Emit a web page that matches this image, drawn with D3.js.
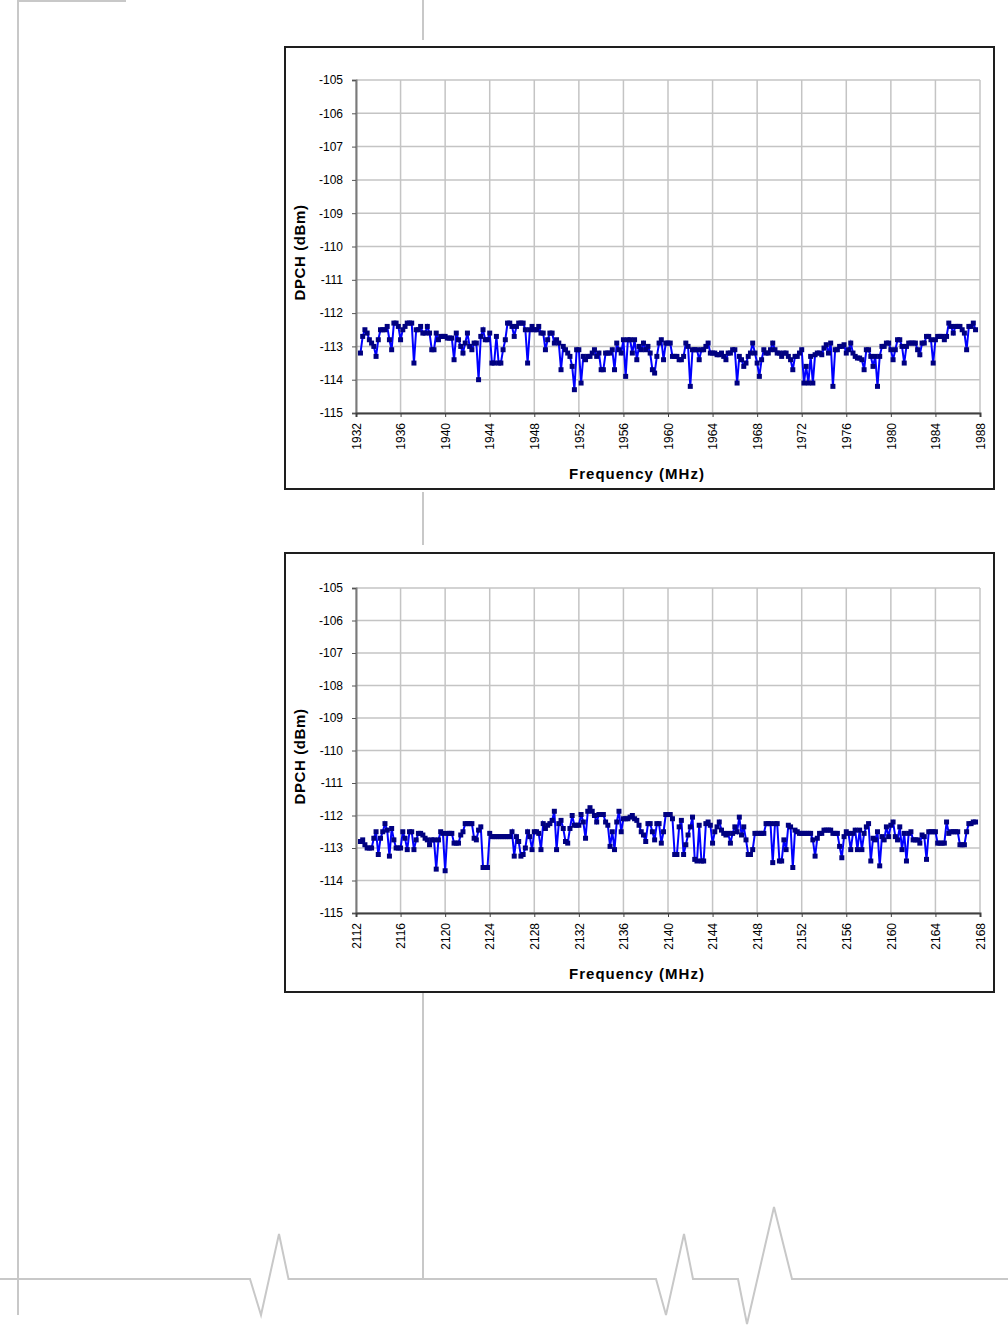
<!DOCTYPE html>
<html><head><meta charset="utf-8">
<script src="https://cdn.jsdelivr.net/npm/d3@7"></script>
<style>body{margin:0;background:#fff}svg{display:block}</style>
</head><body>
<svg id="c" width="1008" height="1325"></svg>
<script>
// ---- data ----
const yTicks = [-115,-114,-113,-112,-111,-110,-109,-108,-107,-106,-105];
const xTicks1 = [1932,1936,1940,1944,1948,1952,1956,1960,1964,1968,1972,1976,1980,1984,1988];
const xTicks2 = [2112,2116,2120,2124,2128,2132,2136,2140,2144,2148,2152,2156,2160,2164,2168];
const xTitle = "Frequency (MHz)";
const yTitle = "DPCH (dBm)";

// DPCH level, 0.2 MHz channel raster, 1932.4 .. 1987.6 MHz
const dpch1 = [
-113.2,-112.7,-112.5,-112.6,-112.8,-112.9,-113.0,-113.3,-112.8,-112.5,
-112.5,-112.5,-112.4,-112.8,-113.1,-112.3,-112.3,-112.4,-112.8,-112.5,
-112.4,-112.3,-112.3,-112.3,-113.5,-112.5,-112.5,-112.4,-112.6,-112.6,
-112.4,-112.6,-113.1,-113.1,-112.6,-112.8,-112.7,-112.7,-112.7,-112.75,
-112.75,-112.75,-113.4,-112.6,-112.8,-113.0,-113.2,-112.9,-112.6,-113.0,
-113.1,-112.9,-112.9,-114.0,-112.7,-112.5,-112.8,-112.8,-112.6,-113.5,
-113.5,-112.7,-113.5,-113.5,-113.1,-112.8,-112.3,-112.3,-112.4,-112.7,
-112.4,-112.3,-112.3,-112.3,-112.5,-113.5,-112.5,-112.4,-112.5,-112.5,
-112.4,-112.6,-112.6,-113.1,-112.8,-112.6,-112.6,-112.9,-112.8,-112.9,
-113.7,-113.0,-113.1,-113.2,-113.3,-113.6,-114.3,-113.1,-113.1,-114.1,
-113.3,-113.4,-113.3,-113.3,-113.2,-113.1,-113.3,-113.2,-113.7,-113.7,
-113.2,-113.2,-113.2,-113.1,-113.7,-112.9,-113.1,-113.2,-112.8,-113.9,
-112.8,
-112.8,-113.2,-112.8,-113.4,-113.0,-113.1,-112.9,-113.1,-113.0,-113.2,
-113.7,-113.8,-113.3,-112.9,-112.8,-113.4,-112.9,-112.9,-112.9,-113.3,
-113.3,-113.3,-113.4,-113.4,-113.3,-112.9,-113.0,-114.2,-113.1,-113.1,
-113.1,-113.4,-113.1,-113.1,-113.0,-112.9,-113.2,-113.2,-113.2,-113.25,
-113.25,-113.2,-113.3,-113.4,-113.2,-113.2,-113.1,-113.1,-114.1,-113.3,
-113.4,-113.6,-113.5,-113.3,-113.2,-112.9,-113.2,-113.5,-113.9,-113.4,
-113.1,-113.2,-113.2,-113.1,-112.9,-113.1,-113.2,-113.2,-113.3,-113.2,
-113.2,-113.3,-113.4,-113.7,-113.3,-113.3,-113.2,-113.1,-114.1,-113.6,
-114.1,-113.3,-114.1,-113.25,-113.2,-113.2,-113.25,-113.05,-112.95,-113.2,
-112.9,-114.2,-113.1,-113.1,-113.0,-113.0,-112.95,-113.2,-113.1,-112.9,
-113.2,-113.3,-113.35,-113.35,-113.4,-113.7,-113.1,-113.1,-113.3,-113.6,
-113.3,-114.2,-113.3,-113.0,-113.0,-112.9,-112.9,-113.1,-113.4,-113.1,
-112.8,-112.8,-113.0,-113.5,-113.0,-112.9,-112.9,-112.9,-112.9,-113.1,
-113.25,-112.9,-112.9,-112.7,-112.7,-112.8,-113.5,-112.8,-112.7,-112.7,
-112.7,-112.8,-112.7,-112.3,-112.4,-112.6,-112.4,-112.4,-112.4,-112.5,
-112.6,-113.1,-112.4,-112.4,-112.3,-112.5
];

// DPCH level, 0.2 MHz channel raster, 2112.4 .. 2167.6 MHz
const dpch2 = [
-112.8,-112.75,-112.9,-113.0,-113.0,-113.0,-112.7,-112.5,-113.2,-112.7,
-112.5,-112.25,-112.45,-113.25,-112.4,-112.75,-113.0,-113.0,-113.0,-112.5,
-112.7,-113.05,-112.5,-112.5,-113.05,-112.75,-112.55,-112.55,-112.6,-112.7,
-112.75,-112.9,-112.75,-112.75,-113.65,-112.75,-112.5,-112.55,-113.7,-112.55,
-112.55,-112.55,-112.85,-112.85,-112.85,-112.6,-112.5,-112.25,-112.25,-112.25,
-112.25,-112.7,-112.75,-112.45,-112.35,-113.6,-113.6,-113.6,-112.55,-112.65,
-112.65,-112.65,-112.65,-112.65,-112.65,-112.65,-112.65,-112.65,-112.5,-113.25,
-112.65,-112.8,-113.25,-113.2,-113.0,-112.5,-112.65,-113.05,-112.5,-112.5,
-112.55,-113.05,-112.25,-112.4,-112.3,-112.25,-112.15,-111.87,-113.05,-112.25,
-112.15,-112.4,-112.8,-112.85,-112.4,-112.0,-112.3,-112.3,-112.3,-111.97,
-112.2,-112.7,-111.87,-111.76,-111.87,-112.0,-112.2,-111.97,-111.97,-111.97,
-112.2,-112.3,-112.95,-112.5,-113.05,-112.2,-111.87,-112.5,-112.1,-112.1,
-112.1,
-112.05,-112.0,-112.1,-112.15,-112.3,-112.5,-112.6,-112.8,-112.25,-112.25,
-112.5,-112.75,-112.25,-112.25,-112.85,-112.5,-111.97,-111.97,-111.97,-112.1,
-113.2,-113.2,-112.35,-112.15,-113.2,-112.9,-112.6,-112.35,-112.05,-113.35,
-113.4,-112.3,-113.4,-113.4,-112.25,-112.2,-112.3,-112.85,-112.5,-112.35,
-112.2,-112.45,-112.55,-112.6,-112.55,-112.85,-112.55,-112.35,-112.5,-112.05,
-112.6,-112.35,-112.75,-113.2,-113.2,-113.05,-112.55,-112.55,-112.55,-112.55,
-112.55,-112.25,-112.25,-112.25,-113.45,-112.25,-112.25,-113.4,-113.4,-112.75,
-113.05,-112.3,-112.35,-113.6,-112.45,-112.5,-112.55,-112.55,-112.55,-112.55,
-112.55,-112.55,-112.75,-113.25,-112.7,-112.55,-112.55,-112.45,-112.45,-112.45,
-112.45,-112.55,-112.55,-112.55,-112.95,-113.3,-112.65,-112.5,-112.55,-113.05,
-112.55,-112.45,-113.05,-112.45,-113.05,-112.55,-112.35,-112.25,-113.4,-112.7,
-112.75,-112.5,-113.55,-112.65,-112.75,-112.35,-112.65,-112.3,-112.2,-112.65,
-112.75,-112.35,-113.05,-112.55,-113.4,-112.55,-112.5,-112.75,-112.75,-112.75,
-112.85,-112.6,-112.65,-113.35,-112.5,-112.5,-112.5,-112.5,-112.85,-112.85,
-112.85,-112.85,-112.2,-112.55,-112.5,-112.5,-112.5,-112.5,-112.9,-112.9,
-112.9,-112.5,-112.25,-112.25,-112.2,-112.2
];

const chStart1 = 1932.4, chStart2 = 2112.4, chStep = 0.2;
const freq1 = dpch1.map((_, i) => +(chStart1 + chStep * i).toFixed(1));
const freq2 = dpch2.map((_, i) => +(chStart2 + chStep * i).toFixed(1));

// ---- drawing ----
const svg = d3.select("#c");
const FONT = "'Liberation Sans', Arial, sans-serif";
const deco = "#c8c8c8";

// page decoration
const dg = svg.append("g").attr("fill", "none").attr("stroke", deco).attr("stroke-width", 2);
dg.append("path").attr("d", "M18,0V1315M18,1H126");
dg.append("path").attr("d", "M423,0V40M423,492V545M423,993V1279");
dg.append("path").attr("d", "M0,1279H250L261,1315L279,1234L288.5,1279H656L666,1315L684,1234L693,1279H738L747,1324L774,1207L792,1279H1008");

function drawChart(cfg) {
  const g = svg.append("g");
  const [bx0, by0, bx1, by1] = cfg.box;
  g.append("rect").attr("x", bx0).attr("y", by0).attr("width", bx1 - bx0).attr("height", by1 - by0)
    .attr("fill", "#fff").attr("stroke", "#1e1e1e").attr("stroke-width", 2);

  const x = d3.scaleLinear().domain(cfg.xDomain).range([356, 980]);
  const y = d3.scaleLinear().domain([-115, -105]).range([cfg.bottom, cfg.top]);

  // grid
  g.append("g").selectAll("line").data(yTicks).join("line")
    .attr("x1", 356).attr("x2", 980).attr("y1", d => y(d)).attr("y2", d => y(d))
    .attr("stroke", "#c4c4c4").attr("stroke-width", 1.5);
  g.append("g").selectAll("line").data(cfg.xTicks).join("line")
    .attr("x1", d => x(d)).attr("x2", d => x(d)).attr("y1", cfg.top).attr("y2", cfg.bottom)
    .attr("stroke", "#c4c4c4").attr("stroke-width", 1.5);

  // y axis
  const ya = g.append("g").attr("transform", "translate(356,0)")
    .call(d3.axisLeft(y).tickValues(yTicks).tickSize(4).tickPadding(9).tickFormat(d => String(d)));
  ya.select(".domain").attr("stroke", "#7a7a7a").attr("stroke-width", 2);
  ya.selectAll(".tick line").attr("stroke", "#555");
  ya.selectAll("text").attr("font-family", FONT).attr("font-size", 12).attr("fill", "#000");

  // x axis
  const xa = g.append("g").attr("transform", `translate(0,${cfg.bottom})`)
    .call(d3.axisBottom(x).tickValues(cfg.xTicks).tickSize(4).tickFormat(d => String(d)));
  xa.select(".domain").attr("stroke", "#404040").attr("stroke-width", 2);
  xa.selectAll(".tick line").attr("stroke", "#404040");
  xa.selectAll("text").attr("font-family", FONT).attr("font-size", 12).attr("fill", "#000")
    .attr("transform", "rotate(-90)").attr("x", -10).attr("y", 0).attr("dy", "0.35em")
    .style("text-anchor", "end");

  // titles
  g.append("text").attr("x", 637).attr("y", cfg.bottom + 65.5)
    .attr("text-anchor", "middle").attr("font-family", FONT).attr("font-weight", "bold")
    .attr("font-size", 15).attr("letter-spacing", 1).text(xTitle);
  g.append("text").attr("transform", `translate(304.5,${(cfg.top + cfg.bottom) / 2 + 6}) rotate(-90)`)
    .attr("text-anchor", "middle").attr("font-family", FONT).attr("font-weight", "bold")
    .attr("font-size", 15).attr("letter-spacing", 0.6).text(yTitle);

  // series
  const pts = cfg.freq.map((f, i) => [f, cfg.vals[i]]);
  g.append("path").datum(pts)
    .attr("d", d3.line().x(d => x(d[0])).y(d => y(d[1])))
    .attr("fill", "none").attr("stroke", "#0000ff").attr("stroke-width", 2);
  g.append("g").selectAll("rect").data(pts).join("rect")
    .attr("x", d => x(d[0]) - 2.5).attr("y", d => y(d[1]) - 2.5)
    .attr("width", 5).attr("height", 5).attr("fill", "#000080");
}

drawChart({box: [285, 47, 994, 489], top: 80, bottom: 413, xDomain: [1932, 1988], xTicks: xTicks1, freq: freq1, vals: dpch1});
drawChart({box: [285, 553, 994, 992], top: 588, bottom: 913, xDomain: [2112, 2168], xTicks: xTicks2, freq: freq2, vals: dpch2});
</script>
</body></html>
